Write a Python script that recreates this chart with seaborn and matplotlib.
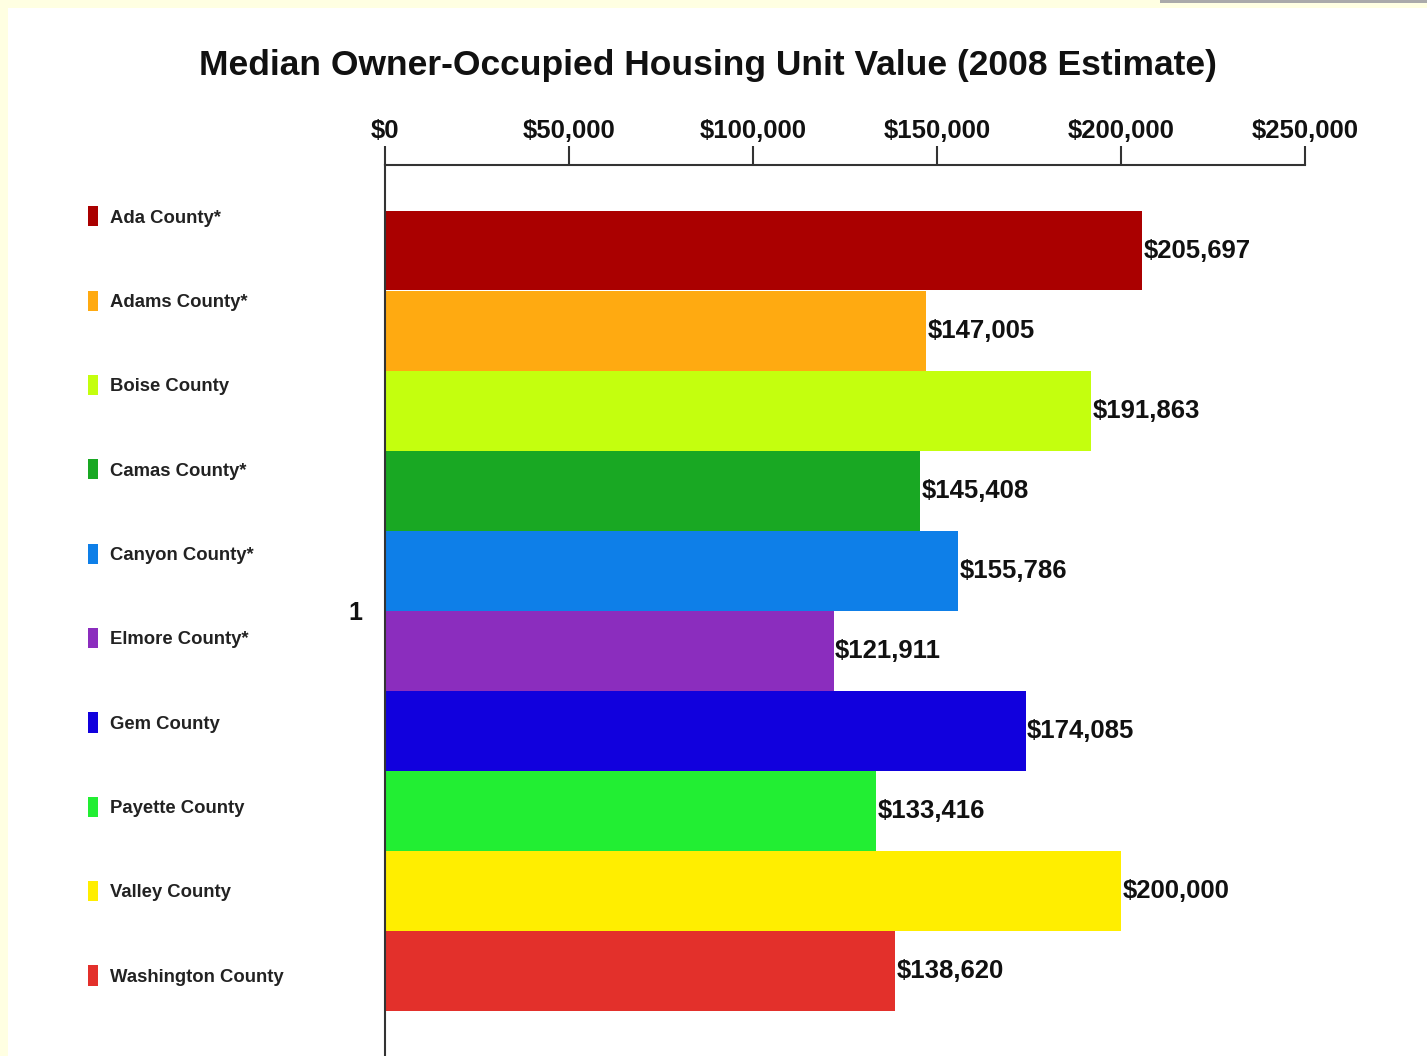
import matplotlib
matplotlib.use("Agg")
import matplotlib.pyplot as plt
from matplotlib.patches import Rectangle
from matplotlib.ticker import FuncFormatter
import seaborn as sns
import pandas as pd

counties = ["Ada County", "Adams County", "Boise County", "Camas County",
            "Canyon County", "Elmore County", "Gem County", "Payette County",
            "Valley County", "Washington County"]
starred = [True, True, False, True, True, True, False, False, False, False]
values = [205697, 147005, 191863, 145408, 155786, 121911, 174085, 133416,
          200000, 138620]
colors = ["#AA0000", "#FFAA11", "#C4FF0E", "#19A823", "#0E7FE8",
          "#8B2DBE", "#1100DD", "#22EE33", "#FFEE00", "#E3302B"]
group = ["1"] * len(counties)
xticks = [0, 50000, 100000, 150000, 200000, 250000]
title = "Median Owner-Occupied Housing Unit Value (2008 Estimate)"

df = pd.DataFrame({"group": group, "county": counties, "value": values})

sns.set_style("white")
plt.rcParams["font.family"] = ["Liberation Sans", "DejaVu Sans"]

W, H = 1427, 1056
fig = plt.figure(figsize=(W / 100, H / 100), dpi=100)
fig.patch.set_facecolor("#FFFFE2")
fig.patches.append(Rectangle((8 / W, 0), 1, 1 - 8 / H, transform=fig.transFigure,
                             facecolor="white", edgecolor="none", zorder=-10))
fig.patches.append(Rectangle((1160 / W, 1 - 3 / H), 1, 3 / H, transform=fig.transFigure,
                             facecolor="#AAAAAA", edgecolor="none", zorder=-9))

ax = fig.add_axes([385 / W, 0.0, (1305 - 385) / W, 1 - 165 / H])
ax.set_facecolor("white")

sns.barplot(data=df, x="value", y="group", hue="county", hue_order=counties,
            palette=colors, orient="h", saturation=1, linewidth=0, ax=ax)

for cont, v in zip(ax.containers, values):
    ax.bar_label(cont, labels=[f"${v:,.0f}"], padding=1, fontsize=18.5,
                 fontweight="bold", color="#111111")

ax.set_xlim(0, 250000)
ax.set_ylim(0.4455, -0.4455)
ax.set_xticks(xticks)
ax.xaxis.set_major_formatter(FuncFormatter(lambda x, p: f"${x:,.0f}"))
ax.xaxis.tick_top()
ax.tick_params(axis="x", length=14, width=1.5, color="#333333", pad=2,
               labelsize=18.5, labelcolor="#111111")
ax.tick_params(axis="y", length=0, pad=16, labelsize=18, labelcolor="#111111")
for lab in ax.get_xticklabels() + ax.get_yticklabels():
    lab.set_fontweight("bold")
ax.set_xlabel("")
ax.set_ylabel("")
for s in ["right", "bottom"]:
    ax.spines[s].set_visible(False)
for s in ["top", "left"]:
    ax.spines[s].set_color("#333333")
    ax.spines[s].set_linewidth(1.5)

handles, _ = ax.get_legend_handles_labels()
ax.get_legend().remove()
labels = [c + ("*" if s else "") for c, s in zip(counties, starred)]
fig.legend(handles, labels, loc="center left",
           bbox_to_anchor=(88 / W, 1 - 596 / H), frameon=False,
           prop={"size": 13.3, "weight": "bold"}, labelcolor="#222222",
           handlelength=0.55, handleheight=1.3, handletextpad=0.65,
           labelspacing=3.47, borderpad=0, borderaxespad=0)

fig.text(708 / W, 1 - 66 / H, title, ha="center", va="center",
         fontsize=25.5, fontweight="bold", color="#111111")

fig.savefig("out.png", dpi=100, facecolor=fig.get_facecolor())
